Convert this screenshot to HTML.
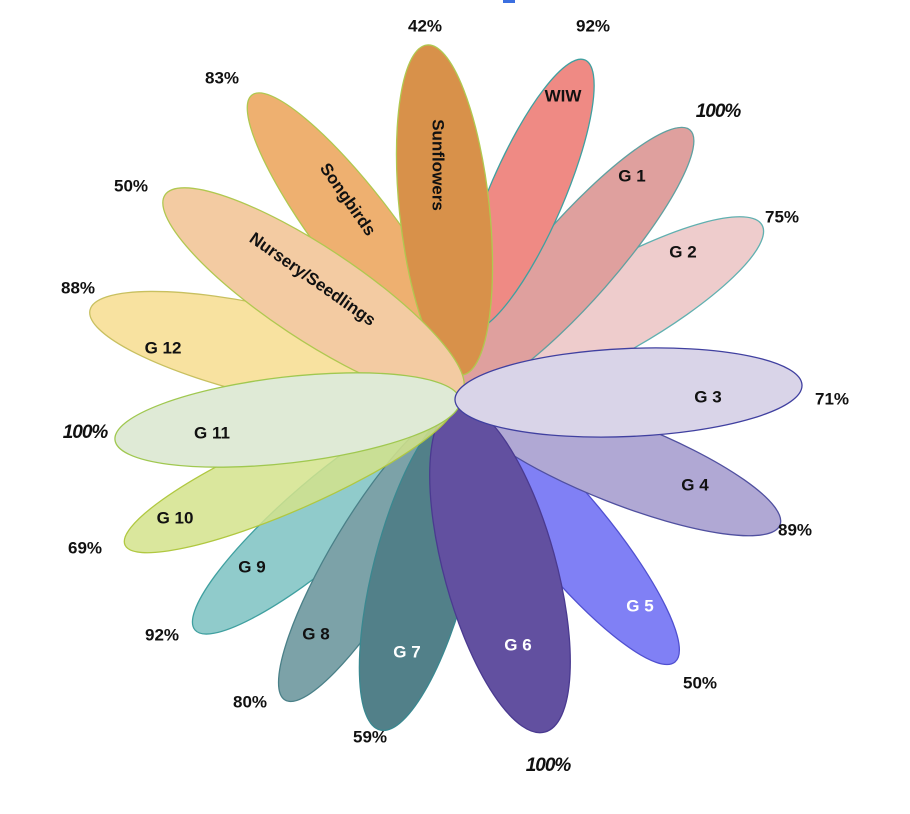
<!DOCTYPE html>
<html><head><meta charset="utf-8"><style>
html,body{margin:0;padding:0;background:#fff;}
svg{display:block;font-family:"Liberation Sans",sans-serif;font-weight:bold;}
</style></head><body>
<svg id="chart" width="910" height="814" viewBox="0 0 910 814">
<rect x="503" y="0" width="12" height="3" fill="#3b6fe0"/>
<g id="petals"></g>
<g id="labels"></g>
</svg>
<script>
const categories=["G 12","G 5","G 4","G 9","G 8","G 7","G 6","G 10","G 2","G 1","WIW","Songbirds","Sunflowers","Nursery/Seedlings","G 11","G 3"];
const values=[88,50,89,92,80,59,100,69,75,100,92,83,42,50,100,71];
// styling / geometry (not data)
const fills=["#F8E2A0","#8080F5","#B0A8D4","#90CBCB","#7CA2A8","#528089","#6250A0","#D4E38C","#EECCCC","#DFA09E","#EF8A84","#EEB070","#D8914A","#F3CBA2","#DFEAD6","#D9D4E8"];
const strokes=["#C8C060","#5050D0","#5050A0","#40A0A0","#4A8088","#3A8890","#4A3A90","#B0C840","#60B0B0","#60A0A0","#40A0A0","#B0C850","#B0C850","#B0C850","#A0C850","#4040A0"];
const opac=[1,1,1,1,1,1,1,0.85,1,1,1,1,1,1,1,1];
const tips=[[90,310],[675,662],[780,525],[195,630],[285,700],[380,730],[545,732],[125,545],[762,225],[690,130],[585,60],[252,95],[427,45],[165,195],[115,440],[802,385]];
const bases=[[455,395],[462,405],[462,400],[458,405],[460,410],[462,410],[455,405],[455,400],[462,395],[460,392],[468,330],[462,372],[462,375],[462,392],[460,400],[455,400]];
const widths=[90,80,82,80,80,95,112,75,88,80,74,80,90,92,86,88];
const labelPos=[[163,349],[640,607],[695,486],[252,568],[316,635],[407,653],[518,646],[175,519],[683,253],[632,177],[563,97],[347,200],[437,165],[312,280],[212,434],[708,398]];
const labelRot=[0,0,0,0,0,0,0,0,0,0,0,55,90,35,0,0];
const labelCol=["#111","#fff","#111","#111","#111","#fff","#fff","#111","#111","#111","#111","#111","#111","#111","#111","#111"];
const pctPos=[[78,289],[700,684],[795,531],[162,636],[250,703],[370,738],[548,766],[85,549],[782,218],[718,112],[593,27],[222,79],[425,27],[131,187],[85,433],[832,400]];
const NS="http://www.w3.org/2000/svg";
const pg=document.getElementById('petals'),lg=document.getElementById('labels');
categories.forEach((c,i)=>{
 const [bx,by]=bases[i],[tx,ty]=tips[i];
 const cx=(bx+tx)/2,cy=(by+ty)/2,rx=Math.hypot(tx-bx,ty-by)/2,ang=Math.atan2(ty-by,tx-bx)*180/Math.PI;
 const e=document.createElementNS(NS,'ellipse');
 
 
 e.setAttribute('cx',0);e.setAttribute('cy',0);e.setAttribute('rx',rx);e.setAttribute('ry',widths[i]/2);
 e.setAttribute('transform',`translate(${cx},${cy}) rotate(${ang})`);
 e.setAttribute('fill',fills[i]);e.setAttribute('fill-opacity',opac[i]);e.setAttribute('stroke',strokes[i]);e.setAttribute('stroke-width',1.3);
 pg.appendChild(e);
 const t=document.createElementNS(NS,'text');
 
 
 t.setAttribute('transform',`translate(${labelPos[i][0]},${labelPos[i][1]}) rotate(${labelRot[i]})`);
 t.setAttribute('text-anchor','middle');t.setAttribute('dominant-baseline','middle');
 t.setAttribute('font-size',17);t.setAttribute('fill',labelCol[i]);
 t.textContent=c;lg.appendChild(t);
 const p=document.createElementNS(NS,'text');
 
 
 p.setAttribute('x',pctPos[i][0]);p.setAttribute('y',pctPos[i][1]);
 p.setAttribute('text-anchor','middle');p.setAttribute('dominant-baseline','middle');
 if(values[i]===100){p.setAttribute('font-size',19);p.setAttribute('font-style','italic');p.setAttribute('font-weight','900');p.setAttribute('letter-spacing','-1');p.textContent='100%';}
 else{p.setAttribute('font-size',17);p.textContent=values[i]+'%';}
 p.setAttribute('fill','#111');
 lg.appendChild(p);
});
</script>
</body></html>
